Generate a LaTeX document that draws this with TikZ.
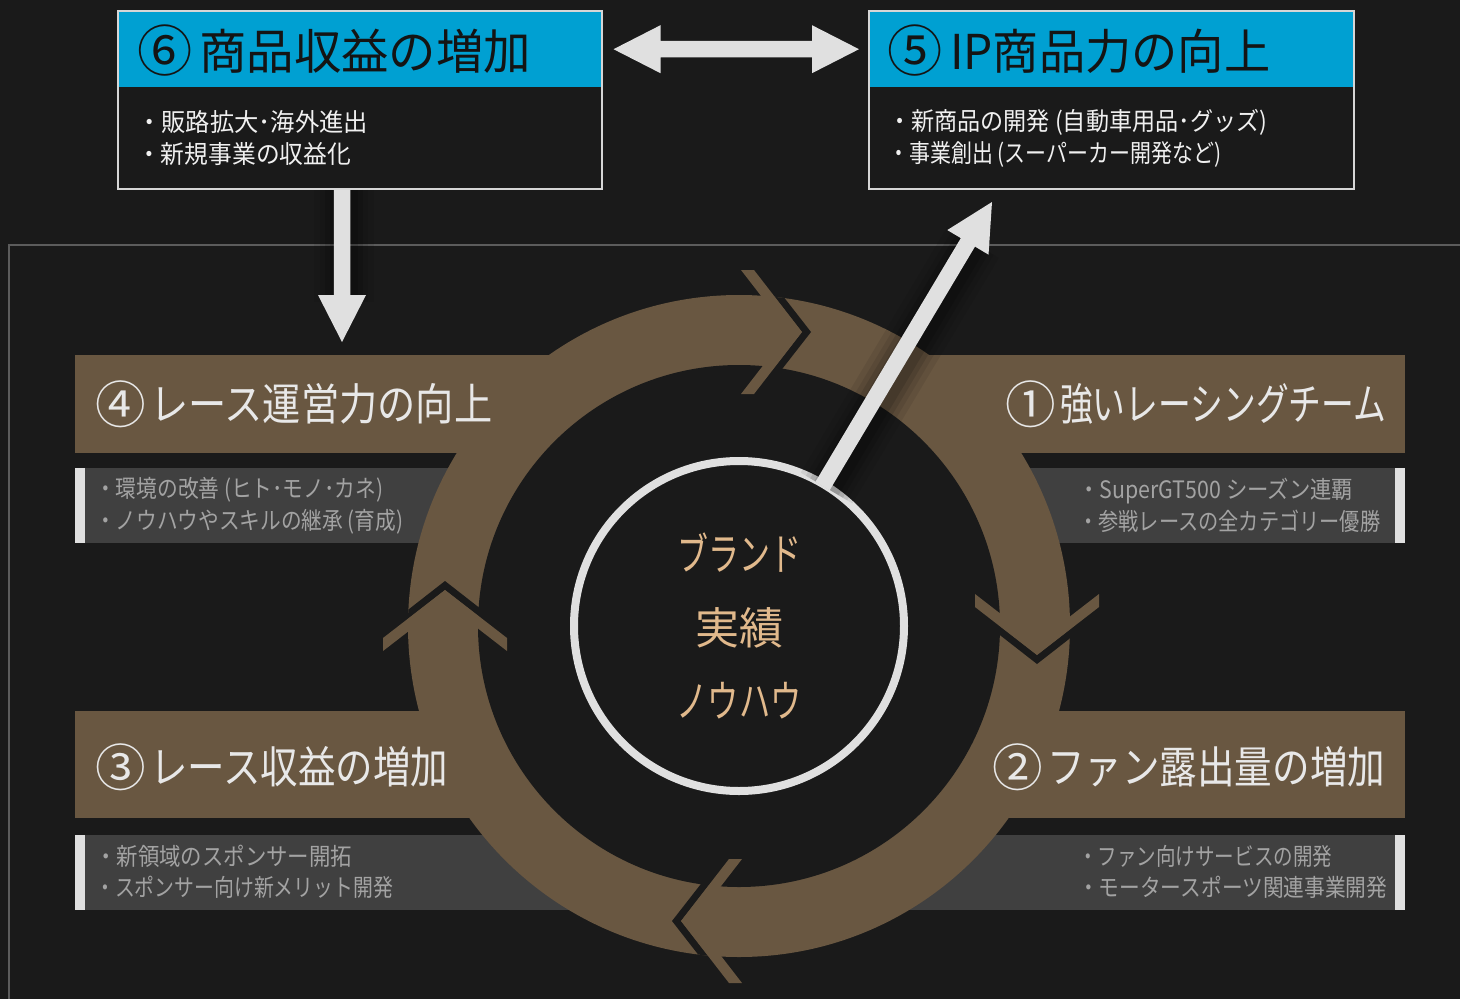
\documentclass[tikz,border=0pt]{standalone}
\usepackage{fontspec}
\usepackage{graphicx}
\newfontfamily\jp{Noto Sans CJK JP}
\usetikzlibrary{calc}
\definecolor{bg}{HTML}{1A1A1A}
\definecolor{brn}{HTML}{695741}
\definecolor{blu}{HTML}{00A0D2}
\definecolor{gbox}{HTML}{404040}
\definecolor{wbar}{HTML}{E0E0E0}
\definecolor{tanc}{HTML}{E1B98C}
\definecolor{gtext}{HTML}{A3A3A3}
\definecolor{framec}{HTML}{5C5C5C}
\definecolor{boxline}{HTML}{D6D6D6}
\definecolor{hdtext}{HTML}{141414}
\definecolor{bntext}{HTML}{E8E8E8}
\definecolor{bdtext}{HTML}{F0F0F0}
\newcommand\fw[2]{\resizebox{#1pt}{\height}{#2}}
% circled number in a box of width #1, then the rest resized to width #3
\newcommand\cn[4]{\makebox[#1pt][l]{\raisebox{-0.06em}{\scalebox{1.15}{#2}}}\fw{#3}{#4}}
% chevron: x, y, rotation, thickness, back, half-height
\newcommand\chev[6]{\fill[shift={(#1,#2)}, rotate=#3] (0,0) -- (-#5,#6) -- (-#5-#4,#6) -- (-#4,0) -- (-#5-#4,-#6) -- (-#5,-#6) -- cycle;}
% fat arrow from #1 to #2, id #3
\newcommand\fatarrow[3]{%
  \coordinate (#3h) at ($(#2)!47pt!(#1)$);
  \fill[arrowc] ($(#1)!8.25pt!90:(#2)$) -- ($(#3h)!8.25pt!90:(#2)$) -- ($(#3h)!24pt!90:(#2)$) -- (#2) -- ($(#3h)!24pt!-90:(#2)$) -- ($(#3h)!8.25pt!-90:(#2)$) -- ($(#1)!8.25pt!-90:(#2)$) -- cycle;}
\newcommand\fatdarrow[3]{%
  \coordinate (#3a) at ($(#1)!47pt!(#2)$);
  \coordinate (#3b) at ($(#2)!47pt!(#1)$);
  \fill[arrowc] (#1) -- ($(#3a)!24pt!90:(#2)$) -- ($(#3a)!8.25pt!90:(#2)$) -- ($(#3b)!8.25pt!90:(#2)$) -- ($(#3b)!24pt!90:(#2)$) -- (#2) -- ($(#3b)!24pt!-90:(#2)$) -- ($(#3b)!8.25pt!-90:(#2)$) -- ($(#3a)!8.25pt!-90:(#2)$) -- ($(#3a)!24pt!-90:(#2)$) -- cycle;}
\begin{document}
\begin{tikzpicture}[x=1pt,y=-1pt,
  arrowc/.style={fill=wbar},
  hd/.style={anchor=west, inner sep=0pt, text=hdtext, font=\jp\fontsize{48pt}{48pt}\selectfont},
  bn/.style={anchor=west, inner sep=0pt, text=bntext, font=\jp\fontsize{44pt}{44pt}\selectfont},
  bd/.style={anchor=west, inner sep=0pt, text=bdtext, font=\jp\fontsize{25pt}{32pt}\selectfont, align=left},
  gt/.style={anchor=west, inner sep=0pt, text=gtext, font=\jp\fontsize{24pt}{31.5pt}\selectfont, align=left},
  shad/.style={black, line cap=butt}
]
\useasboundingbox (0,0) rectangle (1460,999);
\fill[bg] (0,0) rectangle (1460,999);
% frame line
\draw[framec, line width=2pt] (9,1010) -- (9,245) -- (1470,245);

% top boxes
\node[fill=blu, minimum width=484pt, minimum height=77pt, anchor=north west, inner sep=0pt] (hd6) at (117,10) {};
\node[draw=boxline, line width=1.5pt, minimum width=484pt, minimum height=178pt, anchor=north west, inner sep=0pt] (box6) at (117,10) {};
\node[fill=blu, minimum width=485pt, minimum height=77pt, anchor=north west, inner sep=0pt] (hd5) at (868,10) {};
\node[draw=boxline, line width=1.5pt, minimum width=485pt, minimum height=178pt, anchor=north west, inner sep=0pt] (box5) at (868,10) {};
\node[hd] (t6) at (137,51) {\cn{62}{⑥}{332}{商品収益の増加}};
\node[hd] (t5) at (887,51) {\cn{63}{⑤}{320}{IP商品力の向上}};
\node[bd] (b6) at (137,138) {\fw{231}{・販路拡大･海外進出}\\\fw{214}{・新規事業の収益化}};
\node[bd] (b5) at (888,138) {\fw{379}{・新商品の開発 (自動車用品･グッズ)}\\\fw{333}{・事業創出 (スーパーカー開発など)}};

% banners
\fill[brn] (75,355) rectangle (600,453);
\fill[brn] (880,355) rectangle (1405,453);
\fill[brn] (75,711) rectangle (600,818);
\fill[brn] (880,711) rectangle (1405,818);
% gray sub boxes
\fill[gbox] (75,468) rectangle (600,543);
\fill[wbar] (75,468) rectangle (85,543);
\fill[gbox] (880,468) rectangle (1405,543);
\fill[wbar] (1395,468) rectangle (1405,543);
\fill[gbox] (75,835) rectangle (600,910);
\fill[wbar] (75,835) rectangle (85,910);
\fill[gbox] (880,835) rectangle (1405,910);
\fill[wbar] (1395,835) rectangle (1405,910);

% ring
\coordinate (O) at (739,626);
\fill[brn] (O) circle (331pt);
\fill[bg] (O) circle (261pt);
\begin{scope}
  \clip (O) circle (331pt);
  \begin{scope}[bg]
    \chev{811}{332}{0}{9}{39}{50}
    \chev{1037}{664}{-90}{9}{39}{50}
    \chev{672}{921}{180}{9}{39}{50}
    \chev{445}{581}{90}{9}{39}{50}
  \end{scope}
\end{scope}
\begin{scope}[brn]
  \chev{802}{332}{0}{13}{48}{62}
  \chev{1037}{655}{-90}{13}{48}{62}
  \chev{681}{921}{180}{13}{48}{62}
  \chev{445}{590}{90}{13}{48}{62}
\end{scope}

% centre circle
\node[circle, draw=wbar, line width=8pt, fill=bg, minimum size=330pt, inner sep=0pt, text=tanc,
      font=\jp\fontsize{44pt}{73.5pt}\selectfont, align=center] (core) at (O)
      {\fw{124}{ブランド}\\\fw{88}{実績}\\\fw{125}{ノウハウ}};

% banner texts
\node[bn] (t4) at (95,404) {\cn{55}{④}{342}{レース運営力の向上}};
\node[bn] (t1) at (1005,404) {\cn{55}{①}{326}{強いレーシングチーム}};
\node[bn] (t3) at (95,767) {\cn{55}{③}{298}{レース収益の増加}};
\node[bn] (t2) at (992,767) {\cn{55}{②}{338}{ファン露出量の増加}};
\node[gt] (g4) at (95,505.5) {\fw{288}{・環境の改善 (ヒト･モノ･カネ)}\\\fw{308}{・ノウハウやスキルの継承 (育成)}};
\node[gt] (g1) at (1078,505.5) {\fw{275}{・SuperGT500 シーズン連覇}\\\fw{302}{・参戦レースの全カテゴリー優勝}};
\node[gt] (g3) at (95,872) {\fw{257}{・新領域のスポンサー開拓}\\\fw{298}{・スポンサー向け新メリット開発}};
\node[gt] (g2) at (1078,872) {\fw{254}{・ファン向けサービスの開発}\\\fw{309}{・モータースポーツ関連事業開発}};

% arrows
\coordinate (tip5) at (992,202);
\coordinate (st) at ($(core.center)!163pt!(tip5)$);
\coordinate (d0) at ($(box6.south west)+(225,0)$);
\coordinate (d1) at (342,342);
\coordinate (h0) at ($(box6.east |- hd6.east)+(11,0.5)$);
\coordinate (h1) at ($(box5.west |- hd5.east)+(-9,0.5)$);
% soft shadows
\foreach \w/\o in {60/0.07, 48/0.08, 38/0.1, 28/0.12}{
  \draw[shad, opacity=\o, line width=\w pt] ($(st)+(4,2)$) -- ($(tip5)!45pt!(st)+(4,2)$);
  \draw[shad, opacity=\o, line width=\w pt] ($(d0)+(2,0)$) -- ($(d1)+(2,-40)$);
}
\fatarrow{st}{tip5}{da}
\fatarrow{d0}{d1}{dd}
\fatdarrow{h0}{h1}{dh}
\end{tikzpicture}
\end{document}
